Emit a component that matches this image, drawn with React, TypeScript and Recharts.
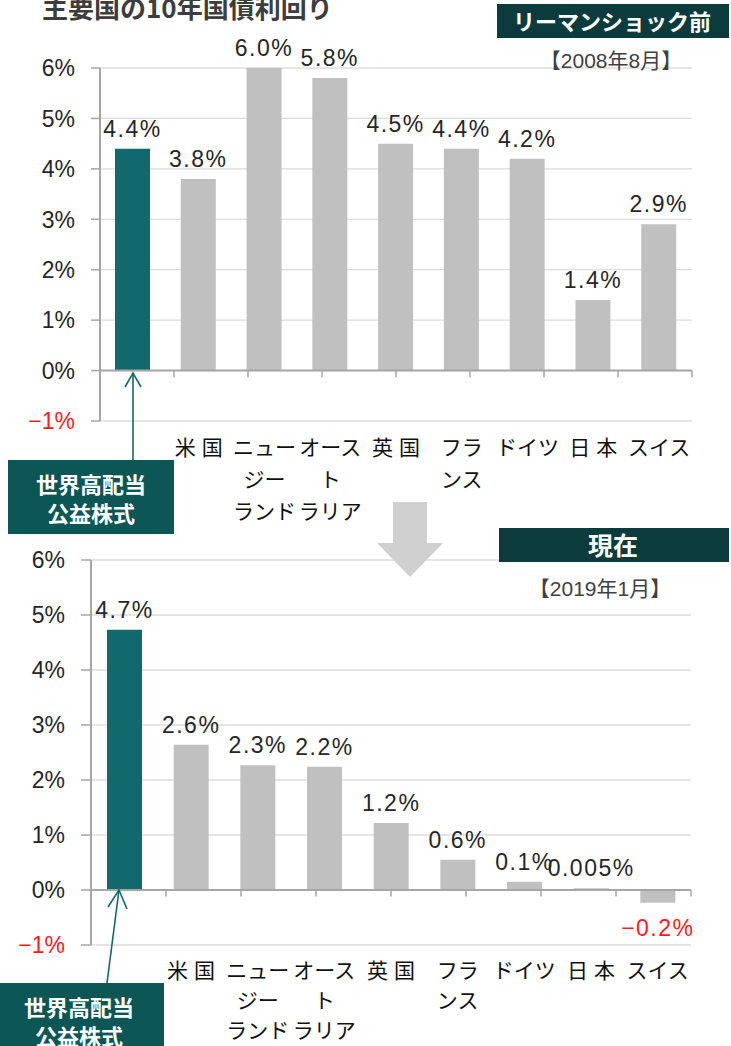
import React from 'react'
import { BarChart, Bar, XAxis, YAxis, CartesianGrid, ReferenceLine, LabelList, Cell } from 'recharts'

// 対象: 世界高配当公益株式と主要国の10年国債利回り
const CATEGORIES = ['世界高配当公益株式', '米国', 'ニュージーランド', 'オーストラリア', '英国', 'フランス', 'ドイツ', '日本', 'スイス']
const TICK_LINES = [[], ['米国'], ['ニュー', 'ジー', 'ランド'], ['オース', 'ト', 'ラリア'], ['英国'], ['フラ', 'ンス'], ['ドイツ'], ['日本'], ['スイス']]

// リーマンショック前【2008年8月】
const YIELD_2008 = [4.4, 3.8, 6.0, 5.8, 4.5, 4.4, 4.2, 1.4, 2.9]
const LABEL_2008 = ['4.4%', '3.8%', '6.0%', '5.8%', '4.5%', '4.4%', '4.2%', '1.4%', '2.9%']

// 現在【2019年1月】
const YIELD_2019 = [4.73, 2.64, 2.27, 2.24, 1.22, 0.55, 0.15, 0.03, -0.23]
const LABEL_2019 = ['4.7%', '2.6%', '2.3%', '2.2%', '1.2%', '0.6%', '0.1%', '0.005%', '−0.2%']

const Y_TICKS = [-1, 0, 1, 2, 3, 4, 5, 6]
const BOUNDS = [1, 2, 3, 4, 5, 6, 7, 8, 9]

const TEAL = '#12696d'
const GRAY = '#c0c0c0'
const GRID = '#dcdcdc'
const AXIS = '#a6a6a6'
const TEXT = '#262626'
const RED = '#ff1a1a'
const NUM_FONT = "'Liberation Sans', Arial, sans-serif"
const JP_FONT = "'Noto Sans CJK JP', sans-serif"
const MIX_FONT = "'Liberation Sans', 'Noto Sans CJK JP', sans-serif"

function YTick(props: any) {
  const { x, y, payload } = props
  const v = Number(payload.value)
  return (
    <text x={x} y={y} dy="0.36em" textAnchor="end" fontSize={23} fontFamily={NUM_FONT}
      fill={v < 0 ? RED : TEXT}>
      {v < 0 ? `−${Math.abs(v)}%` : `${v}%`}
    </text>
  )
}

function makeXTick(firstGap: number, lineGap: number) {
  return function XTick(props: any) {
    const { x, y, payload } = props
    const lines = TICK_LINES[payload.index] ?? []
    return (
      <g>
        {lines.map((ln, i) => {
          const kanji = /^[\u4e00-\u9fff]+$/.test(ln)
          return (
            <text key={i} x={kanji ? x + 3 : x} y={y + firstGap + i * lineGap} textAnchor="middle"
              fontSize={21} fontFamily={JP_FONT} fill="#111" letterSpacing={kanji ? 6 : 0}>
              {ln}
            </text>
          )
        })}
      </g>
    )
  }
}

function ValueLabel(props: any) {
  const vb = props.viewBox ?? props
  const x = Number(vb.x ?? props.x)
  const y = Number(vb.y ?? props.y)
  const w = Number(vb.width ?? props.width)
  const h = Number(vb.height ?? props.height)
  const text = String(props.value)
  const neg = text.startsWith('−')
  const top = Math.min(y, y + h)
  const bottom = Math.max(y, y + h)
  return (
    <text x={x + w / 2} y={neg ? bottom + 33 : top - 12} textAnchor="middle" fontSize={23}
      fontFamily={NUM_FONT} letterSpacing={1.5} fill={neg ? RED : TEXT}>
      {text}
    </text>
  )
}

function YieldChart({ values, labels, height, top, right, yWidth, tickSize, xHeight, firstGap, lineGap, drop }: {
  values: number[]; labels: string[]; height: number; top: number; right: number
  yWidth: number; tickSize: number; xHeight: number; firstGap: number; lineGap: number; drop: number
}) {
  const data = CATEGORIES.map((name, i) => ({ name, value: values[i], label: labels[i] }))
  return (
    <BarChart width={731} height={height} data={data} margin={{ top, right, left: 0, bottom: 0 }} barCategoryGap={0}>
      <CartesianGrid stroke={GRID} strokeWidth={1.3} vertical={false} />
      <XAxis dataKey="name" interval={0} axisLine={false} tickLine={false} tickSize={0} tickMargin={0}
        height={xHeight} tick={makeXTick(firstGap, lineGap)} />
      <XAxis xAxisId="b" type="number" domain={[0, 9]} allowDataOverflow hide />
      <YAxis domain={[-1, 6]} ticks={Y_TICKS} width={yWidth} tickSize={tickSize} tickMargin={16}
        axisLine={{ stroke: AXIS, strokeWidth: 2 }} tickLine={{ stroke: AXIS, strokeWidth: 1.5 }}
        tick={<YTick />} allowDataOverflow />
      <ReferenceLine y={0} xAxisId="b" stroke={AXIS} strokeWidth={2} />
      {BOUNDS.map((b) => (
        <ReferenceLine key={b} xAxisId="b" segment={[{ x: b, y: 0 }, { x: b, y: drop }]}
          stroke={AXIS} strokeWidth={1.5} ifOverflow="visible" />
      ))}
      <Bar dataKey="value" barSize={35} isAnimationActive={false}>
        {data.map((d, i) => <Cell key={d.name} fill={i === 0 ? TEAL : GRAY} />)}
        <LabelList dataKey="label" content={<ValueLabel />} />
      </Bar>
    </BarChart>
  )
}

function Overlay() {
  const box = '#0d5656'
  const head = '#0b3b3c'
  return (
    <svg width={731} height={1046} style={{ position: 'absolute', left: 0, top: 0, pointerEvents: 'none' }}>
      <text x={42} y={18} fontSize={26} fontWeight={700} fontFamily={JP_FONT} fill="#3d3d3d">主要国の10年国債利回り</text>

      <rect x={497} y={4} width={232} height={34} fill={head} />
      <text x={612} y={30} textAnchor="middle" fontSize={22} fontWeight={700} fontFamily={JP_FONT} fill="#fff">リーマンショック前</text>
      <text x={611} y={68} textAnchor="middle" fontSize={21} fontFamily={MIX_FONT} fill="#404040">【2008年8月】</text>

      <polygon points="393,502 427,502 427,543 443,543 410,577 377,543 393,543" fill="#d0d0d0" />

      <rect x={499} y={528} width={230} height={34} fill={head} />
      <text x={613} y={555} textAnchor="middle" fontSize={25} fontWeight={700} fontFamily={JP_FONT} fill="#fff">現在</text>
      <text x={600} y={596} textAnchor="middle" fontSize={21} fontFamily={MIX_FONT} fill="#404040">【2019年1月】</text>

      <line x1={133} y1={460} x2={133} y2={373} stroke={TEAL} strokeWidth={1.6} />
      <polyline points="125,387 133,373 141,387" fill="none" stroke={TEAL} strokeWidth={1.6} />
      <rect x={8} y={460} width={166} height={74} fill={box} />
      <text x={91} y={493} textAnchor="middle" fontSize={22} fontWeight={700} fontFamily={JP_FONT} fill="#fff">世界高配当</text>
      <text x={91} y={522} textAnchor="middle" fontSize={22} fontWeight={700} fontFamily={JP_FONT} fill="#fff">公益株式</text>

      <line x1={107} y1={983} x2={119} y2={890} stroke={TEAL} strokeWidth={1.6} />
      <polyline points="108,907 119,890 127,909" fill="none" stroke={TEAL} strokeWidth={1.6} />
      <rect x={0} y={983} width={164} height={70} fill={box} />
      <text x={79} y={1016} textAnchor="middle" fontSize={22} fontWeight={700} fontFamily={JP_FONT} fill="#fff">世界高配当</text>
      <text x={79} y={1045} textAnchor="middle" fontSize={22} fontWeight={700} fontFamily={JP_FONT} fill="#fff">公益株式</text>
    </svg>
  )
}

export default function App() {
  return (
    <div style={{ position: 'relative', width: 731, height: 1046, overflow: 'hidden', background: '#fff' }}>
      <style>{'body{margin:0}'}</style>
      <div style={{ position: 'absolute', left: 0, top: 0 }}>
        <YieldChart values={YIELD_2008} labels={LABEL_2008} height={531} top={68} right={39} yWidth={100}
          tickSize={9} xHeight={110} firstGap={34} lineGap={32} drop={-0.13} />
      </div>
      <div style={{ position: 'absolute', left: 0, top: 500 }}>
        <YieldChart values={YIELD_2019} labels={LABEL_2019} height={546} top={60} right={40} yWidth={91}
          tickSize={10} xHeight={101} firstGap={33} lineGap={30} drop={-0.12} />
      </div>
      <Overlay />
    </div>
  )
}
